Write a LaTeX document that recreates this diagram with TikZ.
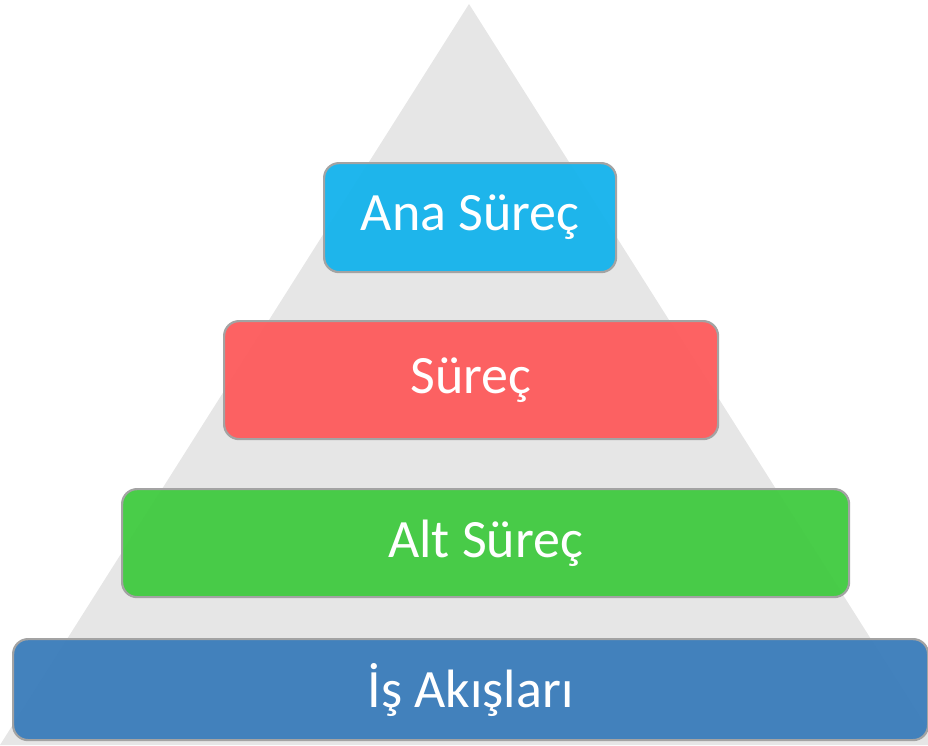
\documentclass[tikz,border=0pt]{standalone}
\usepackage{fontspec}
\setmainfont{Carlito}
\definecolor{tri}{HTML}{E6E6E6}
\definecolor{cana}{HTML}{18B4EC}
\definecolor{csurec}{HTML}{FD5D5E}
\definecolor{calt}{HTML}{43CB43}
\definecolor{cis}{HTML}{3D7EBB}
\definecolor{bord}{HTML}{A3A3A3}
\tikzset{lbl/.style={text=white, font=\fontsize{54}{60}\selectfont, inner sep=0pt}}
\begin{document}
\begin{tikzpicture}[x=1pt,y=-1pt,
  level/.style={draw=bord, line width=2.2pt, rounded corners=15pt, fill opacity=0.97,
    inner sep=0pt, anchor=north west}]
\useasboundingbox (0,0) rectangle (928,745);
\begin{scope}
\clip (0,0) rectangle (928,745);
\fill[tri] (469,4) -- (938,745) -- (0,745) -- cycle;
\end{scope}
\node[level, fill=cana, minimum width=292pt, minimum height=109pt] (ana) at (323,162) {};
\node[lbl] (anat) at (ana.center) {Ana Süreç};
\node[level, fill=csurec, minimum width=494pt, minimum height=118pt] (surec) at (223,320) {};
\node[lbl] (surect) at (surec.center) {Süreç};
\node[level, fill=calt, minimum width=727pt, minimum height=108pt] (alt) at (121,488) {};
\node[lbl] (altt) at (alt.center) {Alt Süreç};
\node[level, fill=cis, minimum width=915pt, minimum height=101pt] (is) at (12,638) {};
\node[lbl] (ist) at (is.center) {İş Akışları};
\end{tikzpicture}
\end{document}
